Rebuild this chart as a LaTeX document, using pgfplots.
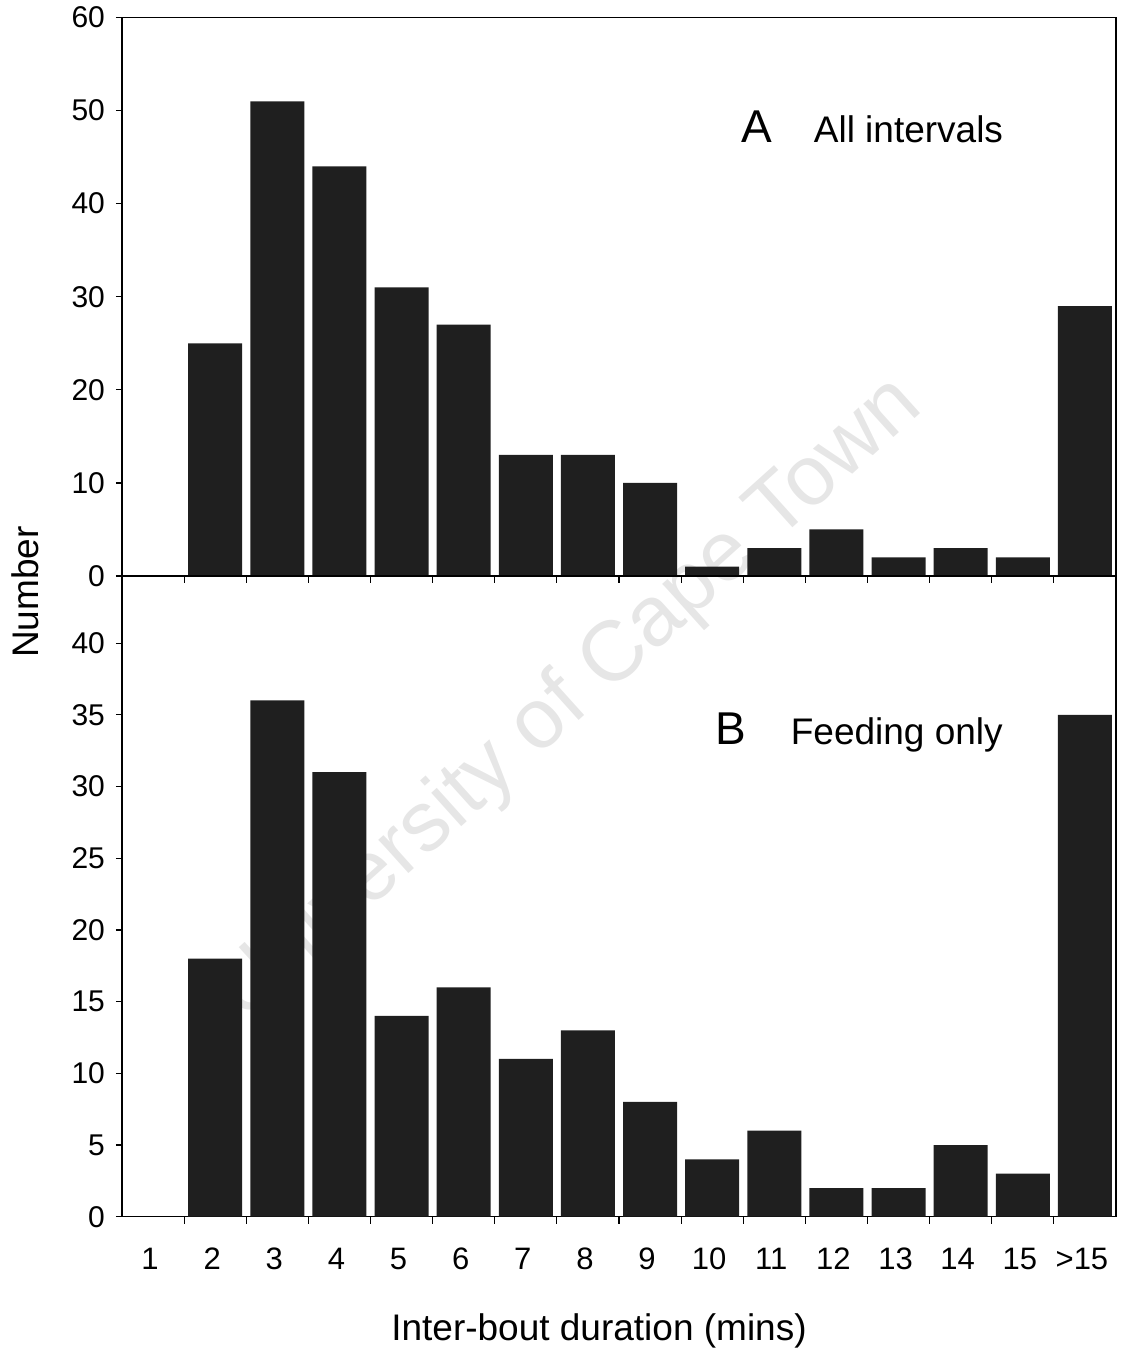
\documentclass[border=0pt]{standalone}
\usepackage{fontspec}
\setmainfont{Liberation Sans}
\usepackage{pgfplots}
\pgfplotsset{compat=1.18}

\definecolor{barfill}{HTML}{1F1F1F}
\definecolor{wmark}{HTML}{E6E6E6}

% shared look of both histogram panels
\pgfplotsset{
  hist/.style={
    scale only axis,
    width=497pt,
    xmin=0.5, xmax=16.5, ymin=0,
    axis line style={line width=0.7pt},
    ybar, bar width=0.87, bar shift=0pt,
    xtick={1,...,16},
    major x tick style={draw=none},
    minor xtick={1.5,2.5,...,15.5},
    minor tick length=3.5pt,
    major tick length=3pt,
    xtick pos=bottom, ytick pos=left, tick align=outside,
    tick style={black, line width=0.6pt},
    /pgf/number format/assume math mode=true,
    yticklabel style={font=\fontsize{15}{18}\selectfont, xshift=-2pt},
    xticklabel style={font=\fontsize{15.5}{18}\selectfont, yshift=-9pt, xshift=-1.5pt},
    clip=false,
  },
}

\begin{document}
\begin{tikzpicture}
  \path[use as bounding box] (0,0) rectangle (561.5pt,-682pt);

  % diagonal watermark behind the panels
  \node[rotate=42, text=wmark, font=\fontsize{42.5}{50}\selectfont]
    at (284.5pt,-350pt) {University of Cape Town};

  % Panel A: all intervals
  \begin{axis}[hist,
    at={(61pt,-8.75pt)}, anchor=north west,
    height=279.25pt,
    ymax=60, ytick={0,10,...,60},
    xticklabels={},
  ]
    \addplot[fill=barfill, draw=none] coordinates {
      (2,25) (3,51) (4,44) (5,31) (6,27) (7,13) (8,13) (9,10)
      (10,1) (11,3) (12,5) (13,2) (14,3) (15,2) (16,29)
    };
    \node[anchor=base, font=\fontsize{23}{27}\selectfont] at (axis cs:10.72,46.6) {A};
    \node[anchor=base west, inner sep=0pt, font=\fontsize{18.5}{22}\selectfont] at (axis cs:11.63,46.6) {All intervals};
  \end{axis}

  % Panel B: feeding only
  \begin{axis}[hist,
    at={(61pt,-288pt)}, anchor=north west,
    height=320.35pt,
    ymax=44.68, ytick={0,5,...,40},
    xticklabels={1,2,3,4,5,6,7,8,9,10,11,12,13,14,15,{>15}},
  ]
    \addplot[fill=barfill, draw=none] coordinates {
      (2,18) (3,36) (4,31) (5,14) (6,16) (7,11) (8,13) (9,8)
      (10,4) (11,6) (12,2) (13,2) (14,5) (15,3) (16,35)
    };
    \node[anchor=base, font=\fontsize{23}{27}\selectfont] at (axis cs:10.3,32.9) {B};
    \node[anchor=base west, inner sep=0pt, font=\fontsize{18.5}{22}\selectfont] at (axis cs:11.26,32.9) {Feeding only};
  \end{axis}

  % shared axis titles
  \node[rotate=90, anchor=base, inner sep=0pt, font=\fontsize{18.5}{22}\selectfont] at (19pt,-296pt) {Number};
  \node[anchor=base, inner sep=0pt, font=\fontsize{18.5}{22}\selectfont] at (299.5pt,-670pt) {Inter-bout duration (mins)};
\end{tikzpicture}
\end{document}
